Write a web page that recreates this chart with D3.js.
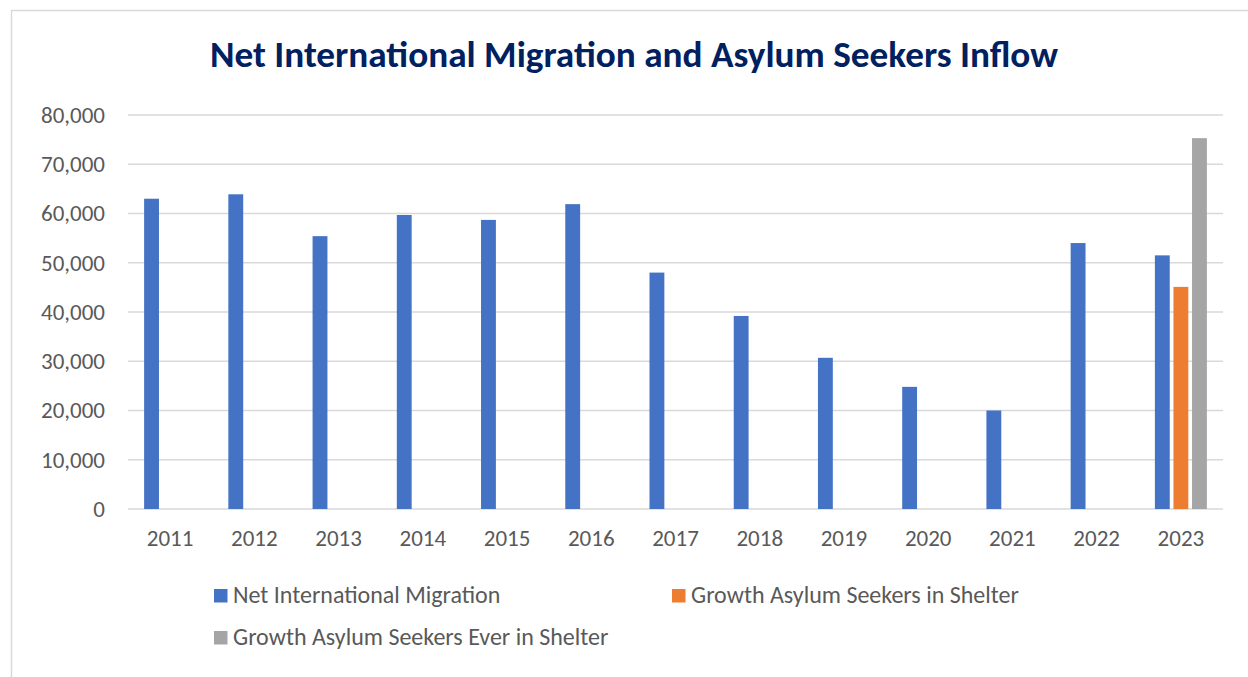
<!DOCTYPE html>
<html>
<head>
<meta charset="utf-8">
<script src="https://cdn.jsdelivr.net/npm/d3@7"></script>
<style>
  body { margin: 0; background: #fff; }
  svg { display: block; }
  text { font-family: Carlito, "Open Sans", "Noto Sans", sans-serif; }
</style>
</head>
<body>
<svg id="chart" width="1248" height="677"></svg>
<script>
// values
var years = ['2011','2012','2013','2014','2015','2016','2017','2018','2019','2020','2021','2022','2023'];
var netMigration = [63000, 63900, 55400, 59700, 58700, 61900, 48000, 39200, 30700, 24800, 20000, 54000, 51500];
var asylumInShelter = [0,0,0,0,0,0,0,0,0,0,0,0, 45100];
var asylumEverInShelter = [0,0,0,0,0,0,0,0,0,0,0,0, 75300];
var seriesNames = ['Net International Migration', 'Growth Asylum Seekers in Shelter', 'Growth Asylum Seekers Ever in Shelter'];
var seriesColors = ['#4472c4', '#ed7d31', '#a5a5a5'];
var yTicks = [0, 10000, 20000, 30000, 40000, 50000, 60000, 70000, 80000];

var seriesValues = [netMigration, asylumInShelter, asylumEverInShelter];

var svg = d3.select('#chart');

// chart frame (only left and top visible in the crop)
svg.append('path')
  .attr('d', 'M11.5,677 L11.5,10.5 L1248,10.5')
  .attr('fill', 'none')
  .attr('stroke', '#d9d9d9')
  .attr('stroke-width', 1.5);

var plot = { left: 128, right: 1223, top: 115, bottom: 509 };

var x = d3.scaleBand()
  .domain(years)
  .range([plot.left, plot.right]);

// bars inside one year: 15px wide with a small gap
var xInner = d3.scaleBand()
  .domain(d3.range(seriesNames.length))
  .range([-26, 26])
  .paddingInner(0.2);

var y = d3.scaleLinear()
  .domain([0, 80000])
  .range([plot.bottom, plot.top]);

// gridlines
svg.append('g')
  .selectAll('line')
  .data(yTicks)
  .join('line')
  .attr('x1', plot.left)
  .attr('x2', plot.right)
  .attr('y1', function(d) { return y(d); })
  .attr('y2', function(d) { return y(d); })
  .attr('stroke', '#d9d9d9')
  .attr('stroke-width', 1.5);

// y axis labels
var yAxis = d3.axisLeft(y)
  .tickValues(yTicks)
  .tickFormat(d3.format(','))
  .tickSize(0)
  .tickPadding(23);
var yg = svg.append('g')
  .attr('transform', 'translate(' + plot.left + ',0)')
  .call(yAxis);
yg.select('.domain').remove();
yg.selectAll('text')
  .attr('fill', '#595959')
  .style('font-size', '23px')
  .style('font-family', 'Carlito, "Open Sans", "Noto Sans", sans-serif');

// x axis labels
var xAxis = d3.axisBottom(x).tickSize(0).tickPadding(21);
var xg = svg.append('g')
  .attr('transform', 'translate(0,' + plot.bottom + ')')
  .call(xAxis);
xg.select('.domain').remove();
xg.selectAll('text')
  .attr('fill', '#595959')
  .style('font-size', '23px')
  .style('font-family', 'Carlito, "Open Sans", "Noto Sans", sans-serif');

// bars
var barData = [];
years.forEach(function(yr, i) {
  seriesValues.forEach(function(vals, s) {
    if (vals[i] > 0) barData.push({ year: yr, s: s, value: vals[i] });
  });
});

svg.append('g')
  .selectAll('rect')
  .data(barData)
  .join('rect')
  .attr('x', function(d) { return x(d.year) + x.bandwidth() / 2 + xInner(d.s); })
  .attr('width', xInner.bandwidth())
  .attr('y', function(d) { return y(d.value); })
  .attr('height', function(d) { return y(0) - y(d.value); })
  .attr('fill', function(d) { return seriesColors[d.s]; });

// title
svg.append('text')
  .attr('x', 634)
  .attr('y', 67)
  .attr('text-anchor', 'middle')
  .attr('fill', '#002060')
  .attr('font-weight', 'bold')
  .attr('textLength', 848)
  .attr('lengthAdjust', 'spacingAndGlyphs')
  .style('font-size', '36px')
  .text('Net International Migration and Asylum Seekers Inflow');

// legend
var legendPos = [[214, 603], [672, 603], [214, 645]];
var legend = svg.append('g')
  .selectAll('g')
  .data(seriesNames)
  .join('g')
  .attr('transform', function(d, i) { return 'translate(' + legendPos[i][0] + ',' + legendPos[i][1] + ')'; });

legend.append('rect')
  .attr('x', 0)
  .attr('y', -14)
  .attr('width', 13.5)
  .attr('height', 13.5)
  .attr('fill', function(d, i) { return seriesColors[i]; });

legend.append('text')
  .attr('x', 19)
  .attr('y', 0)
  .attr('fill', '#595959')
  .style('font-size', '24px')
  .text(function(d) { return d; });
</script>
</body>
</html>
